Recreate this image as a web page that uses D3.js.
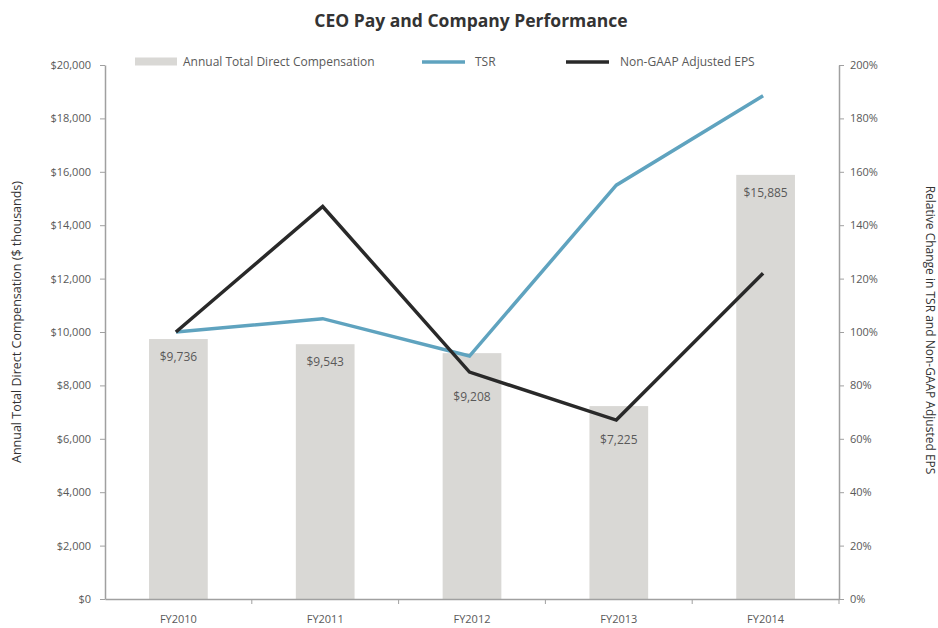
<!DOCTYPE html>
<html>
<head>
<meta charset="utf-8">
<script src="https://cdn.jsdelivr.net/npm/d3@7"></script>
<style>
  body { margin: 0; background: #fff; }
  svg text { font-family: "Open Sans", "Noto Sans", sans-serif; fill: #595959; }
</style>
</head>
<body>
<div id="chart"></div>
<script>
var years = ['FY2010', 'FY2011', 'FY2012', 'FY2013', 'FY2014'];
var compensation = [9736, 9543, 9208, 7225, 15885];
var tsr = [1.00, 1.05, 0.91, 1.55, 1.885];
var eps = [1.00, 1.47, 0.85, 0.67, 1.22];
var compTicks = [0, 2000, 4000, 6000, 8000, 10000, 12000, 14000, 16000, 18000, 20000];
var pctTicks = [0, 0.2, 0.4, 0.6, 0.8, 1.0, 1.2, 1.4, 1.6, 1.8, 2.0];
// how far below the bar top each value label sits
var labelDrop = [22, 22, 48, 38, 22];

var width = 938, height = 628;
var margin = {top: 65, right: 99, bottom: 29, left: 105};

var svg = d3.select('#chart').append('svg')
  .attr('width', width)
  .attr('height', height);

var x = d3.scaleBand()
  .domain(years)
  .range([margin.left, width - margin.right]);

var y = d3.scaleLinear()
  .domain([0, 20000])
  .range([height - margin.bottom, margin.top]);

var y2 = d3.scaleLinear()
  .domain([0, 2])
  .range([height - margin.bottom, margin.top]);

var bw = x.bandwidth();
var barW = bw * 0.4;

///////////////////////BARS///////////////////////////////
svg.selectAll('.bar')
  .data(compensation)
  .enter().append('rect')
  .attr('class', 'bar')
  .attr('x', function(d, i) { return x(years[i]) + (bw - barW) / 2; })
  .attr('y', function(d) { return y(d); })
  .attr('width', barW)
  .attr('height', function(d) { return y(0) - y(d); })
  .style('fill', '#d9d8d5');

svg.selectAll('.barLabel')
  .data(compensation)
  .enter().append('text')
  .attr('class', 'barLabel')
  .attr('x', function(d, i) { return x(years[i]) + bw / 2; })
  .attr('y', function(d, i) { return y(d) + labelDrop[i]; })
  .attr('text-anchor', 'middle')
  .style('font-size', '12px')
  .text(function(d) { return '$' + d3.format(',')(d); });

///////////////////////AXES///////////////////////////////
function styleAxis(g) {
  g.select('.domain').attr('stroke', '#a0a0a0').attr('stroke-width', 1.5);
  g.selectAll('.tick line').attr('stroke', '#a0a0a0');
  g.selectAll('.tick text').style('font-size', '11px').style('fill', '#595959');
}

svg.append('g')
  .attr('transform', 'translate(' + margin.left + ',0)')
  .call(d3.axisLeft(y).tickValues(compTicks).tickSize(5).tickSizeOuter(0).tickPadding(9)
    .tickFormat(function(d) { return '$' + d3.format(',')(d); }))
  .call(styleAxis);

svg.append('g')
  .attr('transform', 'translate(' + (width - margin.right) + ',0)')
  .call(d3.axisRight(y2).tickValues(pctTicks).tickSize(5).tickSizeOuter(0).tickPadding(6)
    .tickFormat(d3.format('.0%')))
  .call(styleAxis);

var xAxis = svg.append('g')
  .attr('transform', 'translate(0,' + (height - margin.bottom) + ')')
  .call(d3.axisBottom(x).tickSize(0).tickSizeOuter(0).tickPadding(16))
  .call(styleAxis);

// category dividers sit between the bars
xAxis.selectAll('.divider')
  .data(years.slice(1).concat(['end']))
  .enter().append('line')
  .attr('class', 'divider')
  .attr('x1', function(d) { return d === 'end' ? x.range()[1] : x(d); })
  .attr('x2', function(d) { return d === 'end' ? x.range()[1] : x(d); })
  .attr('y1', 0)
  .attr('y2', 5)
  .attr('stroke', '#a0a0a0');

///////////////////////LINES///////////////////////////////
var lineX = function(d, i) { return x(years[i]) + bw / 2 - 2.5; };

svg.append('path')
  .datum(tsr)
  .attr('d', d3.line().x(lineX).y(function(d) { return y2(d); }))
  .attr('fill', 'none')
  .attr('stroke', '#5fa3bf')
  .attr('stroke-width', 3.5);

svg.append('path')
  .datum(eps)
  .attr('d', d3.line().x(lineX).y(function(d) { return y2(d); }))
  .attr('fill', 'none')
  .attr('stroke', '#292929')
  .attr('stroke-width', 3.5);

///////////////////////TITLES///////////////////////////////
svg.append('text')
  .attr('x', 471)
  .attr('y', 27)
  .attr('text-anchor', 'middle')
  .style('font-size', '17.5px')
  .style('font-weight', 'bold')
  .style('fill', '#333')
  .text('CEO Pay and Company Performance');

svg.append('text')
  .attr('transform', 'translate(21,322) rotate(-90)')
  .attr('text-anchor', 'middle')
  .style('font-size', '12.5px')
  .style('fill', '#333')
  .text('Annual Total Direct Compensation ($ thousands)');

svg.append('text')
  .attr('transform', 'translate(926,330) rotate(90)')
  .attr('text-anchor', 'middle')
  .style('font-size', '12px')
  .style('fill', '#333')
  .text('Relative Change in TSR and Non-GAAP Adjusted EPS');

///////////////////////LEGEND///////////////////////////////
var legend = svg.append('g').attr('class', 'legend');

legend.append('rect')
  .attr('x', 135).attr('y', 57.5)
  .attr('width', 42).attr('height', 8)
  .style('fill', '#d9d8d5');
legend.append('text')
  .attr('x', 183).attr('y', 66)
  .style('font-size', '12px')
  .text('Annual Total Direct Compensation');

legend.append('line')
  .attr('x1', 422).attr('x2', 465).attr('y1', 62).attr('y2', 62)
  .attr('stroke', '#5fa3bf').attr('stroke-width', 3.5);
legend.append('text')
  .attr('x', 475).attr('y', 66)
  .style('font-size', '12px')
  .text('TSR');

legend.append('line')
  .attr('x1', 566).attr('x2', 609).attr('y1', 62).attr('y2', 62)
  .attr('stroke', '#292929').attr('stroke-width', 3.5);
legend.append('text')
  .attr('x', 620).attr('y', 66)
  .style('font-size', '12px')
  .text('Non-GAAP Adjusted EPS');
</script>
</body>
</html>
